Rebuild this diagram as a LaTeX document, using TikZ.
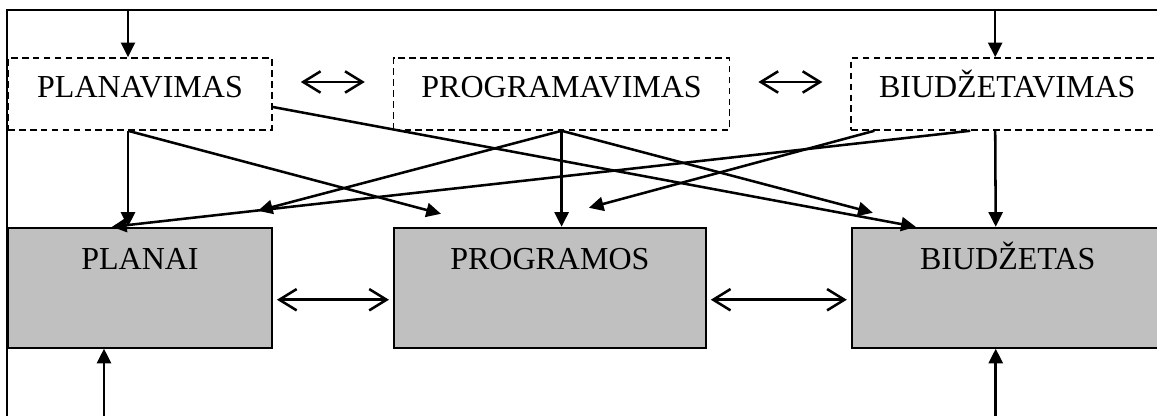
\documentclass[tikz,border=0pt]{standalone}
\usepackage{fontspec}
\setmainfont{Liberation Serif}
\usepackage{xcolor}
\usepackage{tikz}
\usetikzlibrary{positioning, arrows.meta}

\definecolor{boxgray}{RGB}{192,192,192}

\begin{document}
\begin{tikzpicture}[
    x=0.75pt, y=-0.75pt,
    node distance=72pt and 90pt,
    font=\fontsize{24}{28}\selectfont,
    >={Triangle[length=11pt, width=10.5pt]},
    activity/.style={rectangle, draw, dash pattern=on 5pt off 3.2pt, line width=1.2pt, inner sep=0pt, minimum height=54pt, text height=30pt, text depth=24pt},
    result/.style={rectangle, draw, fill=boxgray, line width=1.4pt, inner sep=0pt, minimum height=90pt, text height=31.5pt, text depth=58.5pt},
    link/.style={->, line width=1.9pt},
    twoway/.style={<->, >={Straight Barb[length=13pt, width=16pt]}, line width=1.9pt},
    frame/.style={line width=1.3pt}
]
\useasboundingbox (0,0) rectangle (1157,416);
\clip (0,0) rectangle (1157,416);

\node [activity, minimum width=198pt] (planavimas) at (140,94) {PLANAVIMAS};
\node [activity, minimum width=252pt, right=of planavimas] (programavimas) {PROGRAMAVIMAS};
\node [activity, minimum width=234pt, right=of programavimas] (biudzetavimas) {BIUDŽETAVIMAS};
\node [result, minimum width=198pt, below=of planavimas] (planai) {PLANAI};
\node [result, minimum width=234pt, right=of planai] (programos) {PROGRAMOS};
\node [result, minimum width=234pt, right=108pt of programos] (biudzetas) {BIUDŽETAS};

\coordinate (top) at (7,10);
\coordinate (bottom) at (7,420);
\coordinate (planavimasin) at ([xshift=-9pt]planavimas.north);
\coordinate (biudzetavimasin) at ([xshift=-9pt]biudzetavimas.north);
\coordinate (planaifoot) at ([xshift=-27pt]planai.south);
\coordinate (biudzetasfoot) at ([xshift=-9pt]biudzetas.south);

\draw [frame] (7,416) |- (1160,10);
\draw [link] (planavimasin |- top) -- (planavimasin);
\draw [link] (biudzetavimasin |- top) -- (biudzetavimasin);
\draw [link] (planaifoot |- bottom) -- (planaifoot);
\draw [link] (biudzetasfoot |- bottom) -- (biudzetasfoot);

\draw [link] ([xshift=-9pt]planavimas.south) -- ([xshift=-9pt]planai.north);
\draw [link] ([xshift=-9pt]planavimas.south) -- ([xshift=36pt, yshift=9.75pt]programos.north west);
\draw [link] ([yshift=-9.75pt]planavimas.east) -- ([xshift=48.75pt]biudzetas.north west);
\draw [link] (programavimas.south) -- (programavimas.south |- programos.north);
\draw [link] (programavimas.south) -- ([xshift=16.5pt, yshift=10.5pt]biudzetas.north west);
\draw [link] (programavimas.south) -- ([xshift=-11.25pt, yshift=12pt]planai.north east);
\draw [link] ([xshift=-9pt]biudzetavimas.south) -- ([xshift=-9pt]biudzetas.north);
\draw [link] ([xshift=-27.75pt]biudzetavimas.south) -- ([xshift=-21pt]planai.north);
\draw [link] ([xshift=18pt]biudzetavimas.south west) -- ([xshift=29.25pt, yshift=14.25pt]programos.north);

\draw [twoway] ([xshift=21pt, yshift=9pt]planavimas.east) -- ([xshift=-21pt, yshift=9pt]programavimas.west);
\draw [twoway] ([xshift=21pt, yshift=9pt]programavimas.east) -- ([xshift=-21pt, yshift=9pt]biudzetavimas.west);
\draw [twoway] ([xshift=3pt, yshift=-9pt]planai.east) -- ([xshift=-3pt, yshift=-9pt]programos.west);
\draw [twoway] ([xshift=3pt, yshift=-9pt]programos.east) -- ([xshift=-3pt, yshift=-9pt]biudzetas.west);

\end{tikzpicture}
\end{document}
